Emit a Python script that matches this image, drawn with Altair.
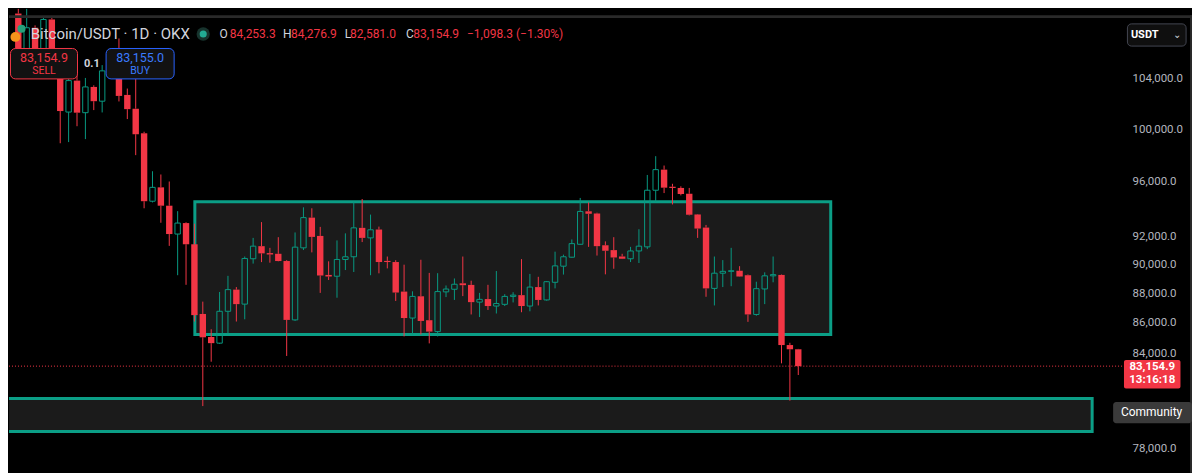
import altair as alt
import pandas as pd

# ---------------- data ----------------
DAY = list(range(-5, 89))
OPEN = [109400, 106200, 108200, 105600, 108900, 104900, 101330, 103840, 101280, 103330,
        102190, 104630, 105900, 102690, 101600, 99670, 94540, 95565, 94210, 92155,
        92945, 91425, 86600, 85060, 84655, 86780, 88255, 87265, 90400, 91290,
        90800, 90750, 90240, 86200, 91170, 93340, 92020, 89270, 89180, 90350,
        90540, 92600, 91880, 92480, 90250, 90170, 88120, 86325, 87800, 86180,
        85420, 88100, 88280, 88690, 88580, 87400, 87610, 87135, 87250, 87790,
        87877, 87135, 88430, 87550, 88760, 89880, 90510, 91425, 93800, 93640,
        91355, 91010, 90560, 90400, 90950, 91240, 95350, 96890, 95610, 95520,
        95090, 93570, 92620, 88340, 89390, 89520, 89560, 89250, 86567, 88300,
        89207, 89270, 84530, 84253.3]
HIGH = [109800, 109800, 108400, 109100, 109200, 105300, 104200, 104300, 104055, 103460,
        105100, 106300, 107300, 103200, 104100, 99790, 96770, 96525, 96000, 93810,
        93000, 92900, 87435, 85575, 88095, 89207, 88430, 90557, 91880, 93015,
        91170, 91930, 90300, 92270, 94090, 94020, 92670, 90220, 91700, 92205,
        94495, 94700, 93560, 92690, 90557, 90300, 89985, 88140, 90330, 89410,
        89390, 88540, 89025, 90557, 88870, 88030, 88585, 89540, 87940, 88075,
        90375, 89340, 89140, 88850, 90900, 90690, 91770, 94780, 94450, 93700,
        91630, 91930, 90750, 91240, 92500, 96490, 97910, 97200, 95830, 95640,
        95520, 93600, 92810, 90557, 90305, 91170, 89880, 89300, 88800, 89450,
        90557, 89300, 84680, 84276.9]
LOW = [105600, 105700, 104900, 105000, 104400, 98900, 98990, 100220, 99220, 101485,
       101300, 104200, 102170, 100780, 97990, 94022, 94450, 92968, 91310, 89250,
       88585, 86090, 80610, 83440, 84600, 85277, 86090, 86240, 90060, 90165,
       90125, 90220, 83815, 86130, 91015, 90850, 88030, 88920, 87700, 89610,
       89475, 91580, 89250, 89380, 89725, 87480, 85100, 85230, 85230, 84640,
       85100, 87745, 87550, 87810, 86567, 86390, 86870, 86630, 87135, 87380,
       86715, 86780, 87175, 87500, 88340, 89295, 90480, 91400, 91240, 90625,
       89310, 89700, 90380, 90170, 90100, 91080, 94500, 95140, 94300, 94970,
       93500, 91880, 87765, 87175, 88430, 88490, 89140, 86070, 86480, 87265,
       88760, 83335, 80950, 82581.0]
CLOSE = [106200, 108200, 105600, 108900, 104900, 101410, 103840, 101280, 103330, 102190,
         104630, 105900, 102610, 101560, 99600, 94540, 95565, 94210, 92155, 92945,
         91425, 86520, 85040, 84655, 86780, 88255, 87265, 90420, 91290, 90780,
         90700, 90240, 86200, 91220, 93340, 91950, 89230, 89160, 90350, 90540,
         92600, 91880, 92460, 90170, 90170, 88055, 86325, 87790, 86130, 85420,
         88120, 88295, 88625, 88560, 87400, 87590, 87135, 87305, 87790, 87877,
         87135, 88430, 87550, 88800, 89900, 90540, 91470, 93790, 93620, 91290,
         90965, 90490, 90400, 90950, 91290, 95350, 96890, 95540, 95520, 95070,
         93550, 92550, 88340, 89390, 89520, 89560, 89160, 86567, 88320, 89207,
         89290, 84530, 84253.2, 83154.9]

ZONE_START = [16.05, -12.0]
ZONE_END = [91.87, 123.04]
ZONE_TOP = [94503, 81092]
ZONE_BOTTOM = [85232, 79035]

PRICE_TICKS = [78000, 84000, 86000, 88000, 90000, 92000, 96000, 100000, 104000]
COUNTDOWN = "13:16:18"

# ---------------- styling ----------------
RED = "#f23645"
GREEN = "#089981"
TEAL = "#0b9e86"
GRAY = "#d1d4dc"
AXIS_GRAY = "#b2b5be"
FONT = "Roboto"

W, H = 1184, 458
SX, SY = W / 1200, H / 474


def px(x):
    return x * SX


def py(y):
    return y * SY


candles = pd.DataFrame({"day": DAY, "open": OPEN, "high": HIGH, "low": LOW, "close": CLOSE})
zones = pd.DataFrame({"start": ZONE_START, "end": ZONE_END, "top": ZONE_TOP, "bottom": ZONE_BOTTOM})
last = pd.DataFrame({"price": [CLOSE[-1]]})
one = pd.DataFrame({"_": [0]})

xscale = alt.Scale(domain=[-5.513, 134.35], nice=False, zero=False)
yscale = alt.Scale(type="log", domain=[76532, 109262], nice=False, zero=False)
yaxis = alt.Axis(orient="right", values=PRICE_TICKS, format=",.1f", labelColor=AXIS_GRAY,
                 labelFontSize=11.5, labelFont=FONT, labelAlign="left", labelPadding=2,
                 offset=-62, domain=False, ticks=False, grid=False, title=None,
                 labelBaseline="middle", labelOverlap=False, labelFlush=False)

X = alt.X("day:Q", scale=xscale, axis=None)


def Y(field):
    return alt.Y(field, type="quantitative", scale=yscale, axis=yaxis)


def text(s, x, y, color, size, weight="normal", align="left", font=FONT):
    return alt.Chart(one).mark_text(text=s, align=align, baseline="middle", color=color,
                                    fontSize=size, fontWeight=weight, font=font).encode(
        x=alt.value(px(x)), y=alt.value(py(y)))


def box(x0, x1, y0, y1, fill, stroke=None, r=0, sw=1):
    kw = dict(fill=fill, cornerRadius=r)
    if stroke:
        kw.update(stroke=stroke, strokeWidth=sw)
    return alt.Chart(one).mark_rect(**kw).encode(
        x=alt.value(px(x0)), x2=alt.value(px(x1)), y=alt.value(py(y0)), y2=alt.value(py(y1)))


def dot(x, y, r, color):
    return alt.Chart(one).mark_circle(size=3.14159 * r * r, color=color, opacity=1).encode(
        x=alt.value(px(x)), y=alt.value(py(y)))


base = alt.Chart(candles).transform_calculate(
    top="max(datum.open, datum.close)", bot="min(datum.open, datum.close)")

zone_layer = alt.Chart(zones).mark_rect(fill="#1b1b1b", stroke=TEAL, strokeWidth=3, clip=True).encode(
    x=alt.X("start:Q", scale=xscale, axis=None), x2="end:Q", y=Y("top:Q"), y2="bottom:Q")

wick_color = alt.condition("datum.close >= datum.open", alt.value(GREEN), alt.value(RED))
upper = base.mark_rule(strokeWidth=1).encode(x=X, y=Y("high:Q"), y2="top:Q", color=wick_color)
lower = base.mark_rule(strokeWidth=1).encode(x=X, y=Y("bot:Q"), y2="low:Q", color=wick_color)
red_body = base.transform_filter("datum.close < datum.open").mark_bar(size=6.4, color=RED).encode(
    x=X, y=Y("top:Q"), y2="bot:Q")
green_body = base.transform_filter("datum.close >= datum.open").mark_bar(
    size=5.4, color=GREEN, fillOpacity=0, stroke=GREEN, strokeWidth=1).encode(
    x=X, y=Y("top:Q"), y2="bot:Q")

price_line = alt.Chart(last).mark_rule(color=RED, strokeDash=[1, 2], strokeWidth=1).encode(
    y=Y("price:Q"), x=alt.value(0), x2=alt.value(px(1131)))
price_box = alt.Chart(last).mark_rect(color=RED, yOffset=-6.1, y2Offset=22.3, cornerRadius=2).encode(
    y=Y("price:Q"), y2="price:Q", x=alt.value(px(1131)), x2=alt.value(px(1188.3)))
price_txt = alt.Chart(last).mark_text(color="#ffffff", fontSize=11.5, fontWeight="bold", font=FONT,
                                      align="center", baseline="middle", dy=1).encode(
    y=Y("price:Q"), x=alt.value(px(1159.7)), text=alt.Text("price:Q", format=",.1f"))
count_txt = alt.Chart(last).mark_text(text=COUNTDOWN, color="#ffffff", fontSize=11.5, fontWeight="bold",
                                      font=FONT, align="center", baseline="middle", dy=14.2).encode(
    y=Y("price:Q"), x=alt.value(px(1159.7)))


def fmt(v):
    return f"{v:,.1f}".replace("-", "\u2212")


chg = CLOSE[-1] - CLOSE[-2]
pct = chg / CLOSE[-2] * 100
chg_text = f"{fmt(chg)} ({pct:.2f}%)".replace("-", "\u2212")

header = [
    box(0, 1200, 0, 3, "#2a2a2a"),
    box(1198, 1200, 0, 474, "#2a2a2a"),
    dot(12.7, 14, 4.6, "#26a17b"),
    dot(6.5, 22.5, 5.6, "#f7931a"),
    text("Bitcoin/USDT \u00b7 1D \u00b7 OKX", 22, 20, GRAY, 15),
    dot(197, 19.5, 7.5, "#17332d"),
    dot(197, 19.5, 4, "#22ab94"),
    text("O", 213.5, 20, GRAY, 12),
    text(fmt(OPEN[-1]), 224, 20, RED, 12),
    text("H", 278, 20, GRAY, 12),
    text(fmt(HIGH[-1]), 286, 20, RED, 12),
    text("L", 340.6, 20, GRAY, 12),
    text(fmt(LOW[-1]), 346, 20, RED, 12),
    text("C", 402.6, 20, GRAY, 12),
    text(fmt(CLOSE[-1]), 410, 20, RED, 12),
    text(chg_text, 464.6, 20, RED, 12),
    box(1.5, 69.5, 34.5, 66, "#121212", RED, 5),
    text(fmt(CLOSE[-1]), 35.5, 44.5, RED, 12.5, align="center"),
    text("SELL", 35.5, 57.5, RED, 10.5, align="center"),
    text("0.1", 84, 50.5, GRAY, 11, weight="bold", align="center"),
    box(98.5, 167.5, 34.5, 66, "#121212", "#2962ff", 5),
    text(fmt(CLOSE[-1] + 0.1), 133, 44.5, "#3a7bff", 12.5, align="center"),
    text("BUY", 133, 57.5, "#3a7bff", 10.5, align="center"),
    box(1134.5, 1194, 9, 32, "#0f0f0f", "#434651", 4),
    text("USDT", 1138, 20.5, "#ffffff", 11, weight="bold"),
    text("\u2304", 1185, 21, "#d1d4dc", 10, align="center", font="DejaVu Sans"),
    box(1120, 1200, 400.7, 422.7, "#3a3a3a", None, 3),
    text("Community", 1159, 411.5, "#ffffff", 12, align="center"),
]

chart = alt.layer(
    zone_layer, upper, lower, red_body, green_body, price_line,
    *header, price_box, price_txt, count_txt
).properties(width=W, height=H, padding=0, background="#000000").configure_view(strokeWidth=0)

chart.save("out.html", embed_options={"renderer": "svg", "actions": False})
